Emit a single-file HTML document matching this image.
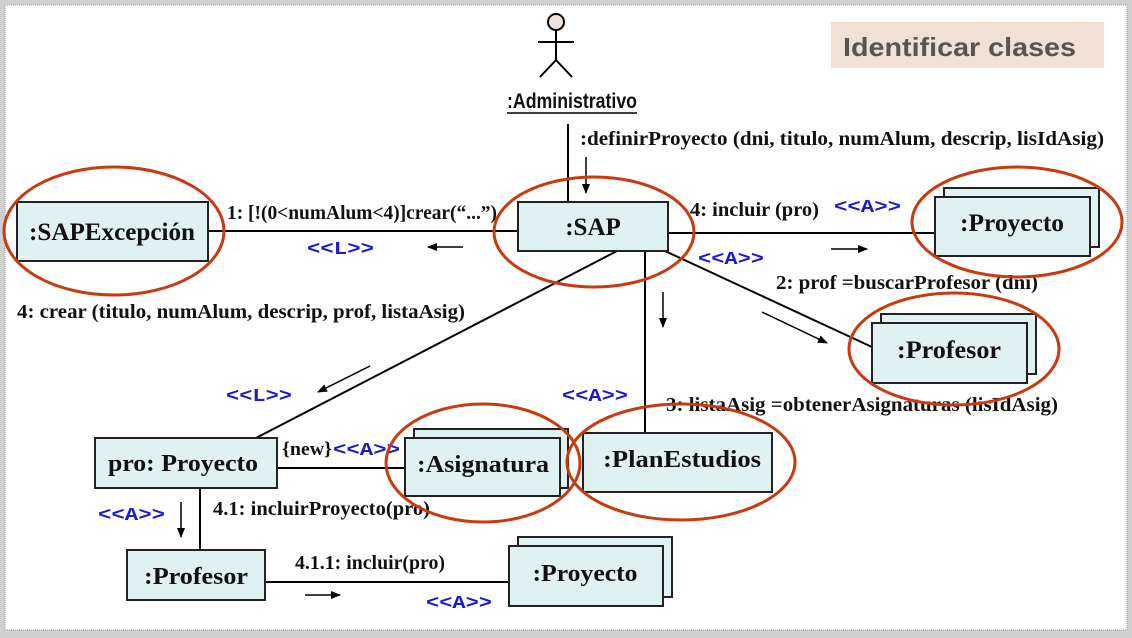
<!DOCTYPE html>
<html><head><meta charset="utf-8"><style>
html,body{margin:0;padding:0;background:#fff}
svg{display:block}
.t{font-family:"Liberation Serif",serif;font-weight:bold;fill:#111}
.b{font-family:"Liberation Mono",monospace;font-weight:bold;fill:#1a1ad0;font-size:18px}
.bx{fill:#e0f1f1;stroke:#222;stroke-width:2}
.el{fill:none;stroke:#c83a10;stroke-width:3}
.ln{stroke:#000;stroke-width:2;fill:none}
</style></head><body>
<svg width="1132" height="638" viewBox="0 0 1132 638">
<defs><marker id="a" markerWidth="10" markerHeight="8" refX="9" refY="4" orient="auto" markerUnits="userSpaceOnUse"><path d="M0,0L10,4L0,8z" fill="#000"/></marker></defs>
<rect x="0" y="0" width="1132" height="638" fill="#d0d0d0"/>
<rect x="5" y="5" width="1122" height="625" fill="#fff" stroke="#999" stroke-dasharray="1,1"/>
<rect x="831" y="22" width="273" height="46" fill="#f2e0d4"/>
<text x="843" y="56" font-family="Liberation Sans,sans-serif" font-weight="bold" font-size="26" fill="#555" textLength="233" lengthAdjust="spacingAndGlyphs">Identificar clases</text>
<circle cx="556" cy="22" r="8" fill="#efe3d8" stroke="#000" stroke-width="2"/>
<line class="ln" x1="556" y1="30" x2="556" y2="60"/>
<line class="ln" x1="538" y1="42" x2="574" y2="42"/>
<line class="ln" x1="556" y1="60" x2="540" y2="77"/>
<line class="ln" x1="556" y1="60" x2="572" y2="77"/>
<text x="507" y="108" font-family="Liberation Sans,sans-serif" font-weight="bold" font-size="21" fill="#111" textLength="130" lengthAdjust="spacingAndGlyphs">:Administrativo</text>
<line x1="507" y1="113" x2="637" y2="113" stroke="#000" stroke-width="1.5"/>
<line class="ln" x1="568" y1="124" x2="568" y2="202"/>
<line stroke="#000" stroke-width="1.5" x1="586" y1="157" x2="586" y2="193" marker-end="url(#a)"/>
<text x="580" y="145" class="t" font-size="20" textLength="524" lengthAdjust="spacingAndGlyphs">:definirProyecto (dni, titulo, numAlum, descrip, lisIdAsig)</text>
<line class="ln" x1="208" y1="231" x2="518" y2="231"/>
<text x="227" y="219" class="t" font-size="20" textLength="270" lengthAdjust="spacingAndGlyphs">1: [!(0&lt;numAlum&lt;4)]crear(“...”)</text>
<text x="307" y="254" class="b" textLength="67" lengthAdjust="spacingAndGlyphs">&lt;&lt;L&gt;&gt;</text>
<line stroke="#000" stroke-width="1.5" x1="463" y1="247" x2="428" y2="247" marker-end="url(#a)"/>
<text x="17" y="318" class="t" font-size="20" textLength="448" lengthAdjust="spacingAndGlyphs">4: crear (titulo, numAlum, descrip, prof, listaAsig)</text>
<line class="ln" x1="668" y1="233" x2="935" y2="233"/>
<text x="690" y="216" class="t" font-size="20" textLength="129" lengthAdjust="spacingAndGlyphs">4: incluir (pro)</text>
<text x="834" y="212" class="b" textLength="67" lengthAdjust="spacingAndGlyphs">&lt;&lt;A&gt;&gt;</text>
<line stroke="#000" stroke-width="1.5" x1="831" y1="249" x2="867" y2="249" marker-end="url(#a)"/>
<text x="698" y="264" class="b" textLength="66" lengthAdjust="spacingAndGlyphs">&lt;&lt;A&gt;&gt;</text>
<line class="ln" x1="665" y1="251" x2="872" y2="347"/>
<text x="776" y="289" class="t" font-size="20" textLength="262" lengthAdjust="spacingAndGlyphs">2: prof =buscarProfesor (dni)</text>
<line stroke="#000" stroke-width="1.5" x1="762" y1="312" x2="827" y2="343" marker-end="url(#a)"/>
<line class="ln" x1="645" y1="251" x2="645" y2="433"/>
<line stroke="#000" stroke-width="1.5" x1="663" y1="292" x2="663" y2="327" marker-end="url(#a)"/>
<text x="666" y="411" class="t" font-size="20" textLength="392" lengthAdjust="spacingAndGlyphs">3: listaAsig =obtenerAsignaturas (lisIdAsig)</text>
<text x="562" y="401" class="b" textLength="66" lengthAdjust="spacingAndGlyphs">&lt;&lt;A&gt;&gt;</text>
<line class="ln" x1="617" y1="251" x2="256" y2="438"/>
<line stroke="#000" stroke-width="1.5" x1="370" y1="366" x2="318" y2="392" marker-end="url(#a)"/>
<text x="226" y="401" class="b" textLength="66" lengthAdjust="spacingAndGlyphs">&lt;&lt;L&gt;&gt;</text>
<line class="ln" x1="277" y1="468" x2="405" y2="468"/>
<text x="282" y="455" class="t" font-size="19" textLength="50" lengthAdjust="spacingAndGlyphs">{new}</text>
<text x="333" y="455" class="b" textLength="67" lengthAdjust="spacingAndGlyphs">&lt;&lt;A&gt;&gt;</text>
<line class="ln" x1="200" y1="488" x2="200" y2="550"/>
<line stroke="#000" stroke-width="1.5" x1="181" y1="502" x2="181" y2="537" marker-end="url(#a)"/>
<text x="98" y="520" class="b" textLength="67" lengthAdjust="spacingAndGlyphs">&lt;&lt;A&gt;&gt;</text>
<text x="213" y="515" class="t" font-size="20" textLength="217" lengthAdjust="spacingAndGlyphs">4.1: incluirProyecto(pro)</text>
<line class="ln" x1="265" y1="582" x2="509" y2="582"/>
<text x="295" y="569" class="t" font-size="20" textLength="150" lengthAdjust="spacingAndGlyphs">4.1.1: incluir(pro)</text>
<line stroke="#000" stroke-width="1.5" x1="305" y1="595" x2="340" y2="595" marker-end="url(#a)"/>
<text x="426" y="608" class="b" textLength="66" lengthAdjust="spacingAndGlyphs">&lt;&lt;A&gt;&gt;</text>
<rect class="bx" x="17" y="202" width="191" height="59"/>
<text x="112" y="240" class="t" font-size="25" text-anchor="middle" textLength="166" lengthAdjust="spacingAndGlyphs">:SAPExcepción</text>
<rect class="bx" x="518" y="202" width="150" height="49"/>
<text x="593" y="235" class="t" font-size="25" text-anchor="middle">:SAP</text>
<rect class="bx" x="944" y="188" width="155" height="59"/>
<rect class="bx" x="935" y="197" width="155" height="59"/>
<text x="1012" y="231" class="t" font-size="25" text-anchor="middle" textLength="104" lengthAdjust="spacingAndGlyphs">:Proyecto</text>
<rect class="bx" x="881" y="314" width="155" height="60"/>
<rect class="bx" x="872" y="323" width="155" height="60"/>
<text x="949" y="358" class="t" font-size="25" text-anchor="middle" textLength="104" lengthAdjust="spacingAndGlyphs">:Profesor</text>
<rect class="bx" x="95" y="438" width="182" height="50"/>
<text x="183" y="471" class="t" font-size="24" text-anchor="middle" textLength="150" lengthAdjust="spacingAndGlyphs">pro: Proyecto</text>
<rect class="bx" x="414" y="429" width="154" height="59"/>
<rect class="bx" x="405" y="438" width="155" height="58"/>
<text x="483" y="472" class="t" font-size="24" text-anchor="middle" textLength="132" lengthAdjust="spacingAndGlyphs">:Asignatura</text>
<rect class="bx" x="583" y="433" width="189" height="59"/>
<text x="682" y="467" class="t" font-size="24" text-anchor="middle" textLength="158" lengthAdjust="spacingAndGlyphs">:PlanEstudios</text>
<rect class="bx" x="127" y="550" width="138" height="50"/>
<text x="196" y="584" class="t" font-size="24" text-anchor="middle" textLength="104" lengthAdjust="spacingAndGlyphs">:Profesor</text>
<rect class="bx" x="518" y="537" width="154" height="60"/>
<rect class="bx" x="509" y="546" width="154" height="60"/>
<text x="585" y="581" class="t" font-size="24" text-anchor="middle" textLength="105" lengthAdjust="spacingAndGlyphs">:Proyecto</text>
<ellipse class="el" cx="114" cy="231" rx="110" ry="64"/>
<ellipse class="el" cx="594" cy="232" rx="100" ry="55"/>
<ellipse class="el" cx="1017" cy="222" rx="105" ry="55"/>
<ellipse class="el" cx="954" cy="349" rx="105" ry="56"/>
<ellipse class="el" cx="483" cy="463" rx="97" ry="59"/>
<ellipse class="el" cx="681" cy="462" rx="114" ry="58"/>
</svg>
</body></html>
